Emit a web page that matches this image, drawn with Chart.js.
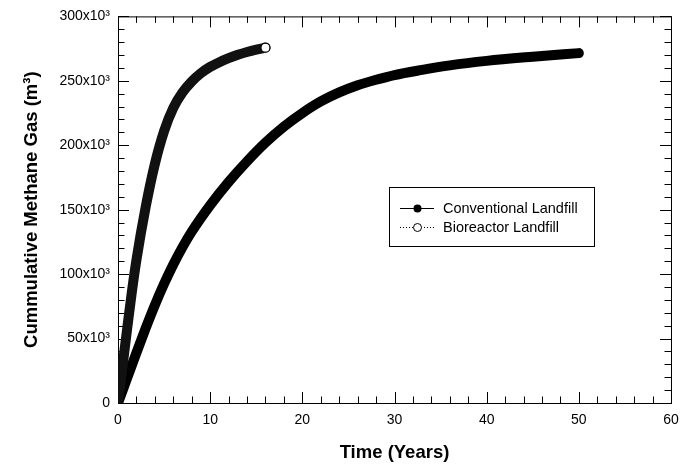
<!DOCTYPE html>
<html>
<head>
<meta charset="utf-8">
<title>Cumulative Methane Gas</title>
<script src="https://cdn.jsdelivr.net/npm/chart.js@4.4.0/dist/chart.umd.min.js"></script>
<style>
    body { margin: 0; background: #fff; }
    #wrap { width: 693px; height: 465px; position: relative; }
</style>
</head>
<body>
<div id="wrap"><canvas id="methaneChart"></canvas></div>
<script>
const seriesNames = ['Conventional Landfill', 'Bioreactor Landfill'];

// time in years, gas in 10^3 m3
const conventionalYears = [0, 1, 2, 3, 4, 5, 6, 7, 8, 10, 12, 14, 16, 18, 20, 22, 24, 26, 28, 30, 33, 36, 40, 45, 50];
const conventionalGas = [0, 19.5, 39, 58, 76, 92.5, 107.5, 121, 133, 153.5, 171.5, 187.5, 202, 214.5, 225, 234, 241, 246.5, 250.8, 254.5, 258.5, 262, 265.5, 268.7, 271.5];

const bioreactorYears = [0, 0.5, 1, 1.5, 2, 3, 4, 5, 6, 7, 8, 9, 10, 11, 12, 13, 14, 15, 16];
const bioreactorGas = [0, 29, 58, 86, 111, 152, 185.5, 211, 229, 241, 249.5, 256, 260.8, 264.5, 267.6, 270.2, 272.4, 274.2, 275.7];

const xTicks = [0, 10, 20, 30, 40, 50, 60];
const yTicks = [0, 50, 100, 150, 200, 250, 300];
const yTickLabels = ['0', '50x10³', '100x10³', '150x10³', '200x10³', '250x10³', '300x10³'];

const fontFamily = "'Liberation Sans', Arial, sans-serif";

function toPoints(years, gas) {
    return years.map((t, i) => ({ x: t, y: gas[i] * 1000 }));
}

// box round the plot, with inward ticks on all four sides
const frameTicks = {
    id: 'frameTicks',
    beforeDatasetsDraw(chart) {
        const { ctx, chartArea: a, scales } = chart;
        const xs = scales.x, ys = scales.y;
        ctx.save();
        ctx.strokeStyle = '#000';
        ctx.lineWidth = 1;
        ctx.strokeRect(a.left + 0.5, a.top + 0.5, a.right - a.left, a.bottom - a.top);
        ctx.beginPath();
        for (let v = 0; v <= 60; v += 2) {
            const len = v % 10 === 0 ? 11 : 6.5;
            const px = Math.round(xs.getPixelForValue(v)) + 0.5;
            ctx.moveTo(px, a.bottom); ctx.lineTo(px, a.bottom - len);
            ctx.moveTo(px, a.top); ctx.lineTo(px, a.top + len);
        }
        for (let v = 0; v <= 300000; v += 10000) {
            const len = v % 50000 === 0 ? 11 : 6.5;
            const py = Math.round(ys.getPixelForValue(v)) + 0.5;
            ctx.moveTo(a.left, py); ctx.lineTo(a.left + len, py);
            ctx.moveTo(a.right, py); ctx.lineTo(a.right - len, py);
        }
        ctx.stroke();
        ctx.restore();
    }
};

const legendBox = {
    id: 'legendBox',
    afterDraw(chart) {
        const ctx = chart.ctx;
        ctx.save();
        ctx.strokeStyle = '#000';
        ctx.lineWidth = 1;
        ctx.strokeRect(389.5, 187.5, 205, 59);

        ctx.font = '14.5px ' + fontFamily;
        ctx.fillStyle = '#000';
        ctx.textBaseline = 'middle';

        // conventional: solid line, filled dot
        ctx.beginPath();
        ctx.moveTo(400, 208.5); ctx.lineTo(434, 208.5);
        ctx.stroke();
        ctx.beginPath();
        ctx.arc(417.5, 208.5, 4, 0, Math.PI * 2);
        ctx.fill();
        ctx.fillText(seriesNames[0], 443, 209);

        // bioreactor: dotted line, open dot
        ctx.setLineDash([1, 2]);
        ctx.beginPath();
        ctx.moveTo(400, 227.5); ctx.lineTo(434, 227.5);
        ctx.stroke();
        ctx.setLineDash([]);
        ctx.beginPath();
        ctx.arc(417.5, 227.5, 4, 0, Math.PI * 2);
        ctx.fillStyle = '#fff';
        ctx.fill();
        ctx.stroke();
        ctx.fillStyle = '#000';
        ctx.fillText(seriesNames[1], 443, 228);
        ctx.restore();
    }
};

const bioPoints = toPoints(bioreactorYears, bioreactorGas);

new Chart(document.getElementById('methaneChart'), {
    type: 'line',
    data: {
        datasets: [{
            label: seriesNames[0],
            data: toPoints(conventionalYears, conventionalGas),
            borderColor: '#000',
            borderWidth: 10,
            borderCapStyle: 'round',
            borderJoinStyle: 'round',
            cubicInterpolationMode: 'monotone',
            pointRadius: 0,
            order: 1
        }, {
            label: seriesNames[1],
            data: bioPoints,
            borderColor: '#111',
            borderWidth: 10,
            borderCapStyle: 'round',
            borderJoinStyle: 'round',
            cubicInterpolationMode: 'monotone',
            pointRadius: bioPoints.map((p, i) => i === bioPoints.length - 1 ? 4.5 : 0),
            pointBackgroundColor: '#fff',
            pointBorderColor: '#000',
            pointBorderWidth: 1.2,
            order: 0
        }]
    },
    options: {
        responsive: true,
        maintainAspectRatio: false,
        animation: false,
        layout: { padding: { top: 16, right: 22, left: 0, bottom: 0 } },
        plugins: {
            legend: { display: false },
            tooltip: { enabled: false }
        },
        scales: {
            x: {
                type: 'linear',
                min: 0,
                max: 60,
                afterBuildTicks: s => { s.ticks = xTicks.map(v => ({ value: v })); },
                afterFit: s => { s.height = 62; },
                grid: { display: false, drawTicks: false },
                border: { display: false },
                ticks: {
                    padding: 9,
                    color: '#000',
                    font: { family: fontFamily, size: 14 }
                },
                title: {
                    display: true,
                    text: 'Time (Years)',
                    color: '#000',
                    padding: { top: 0, bottom: 1 },
                    font: { family: fontFamily, size: 18.5, weight: 'bold' }
                }
            },
            y: {
                min: 0,
                max: 300000,
                afterBuildTicks: s => { s.ticks = yTicks.map(v => ({ value: v * 1000 })); },
                afterFit: s => { s.width = 118; },
                grid: { display: false, drawTicks: false },
                border: { display: false },
                ticks: {
                    padding: 8,
                    color: '#000',
                    font: { family: fontFamily, size: 14 },
                    callback: (v) => yTickLabels[yTicks.indexOf(v / 1000)]
                },
                title: {
                    display: true,
                    text: 'Cummulative Methane Gas (m³)',
                    color: '#000',
                    padding: { top: 21, bottom: 0 },
                    font: { family: fontFamily, size: 18.5, weight: 'bold' }
                }
            }
        }
    },
    plugins: [frameTicks, legendBox]
});
</script>
</body>
</html>
